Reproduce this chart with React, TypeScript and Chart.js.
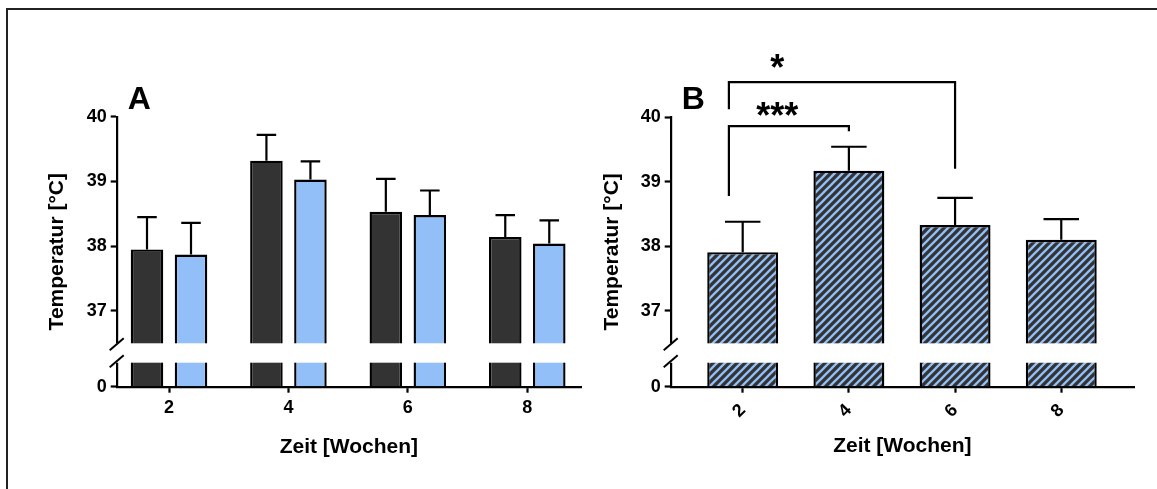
import React, { useEffect, useRef } from 'react';
import { Chart, registerables, LinearScale } from 'chart.js';

Chart.register(...registerables);

// ---------- data ----------
const weeks = [2, 4, 6, 8];
const tempA1 = [37.95, 39.32, 38.53, 38.14];
const sdA1 = [0.5, 0.4, 0.51, 0.34];
const tempA2 = [37.87, 39.03, 38.48, 38.04];
const sdA2 = [0.49, 0.28, 0.38, 0.36];
const tempB = [37.91, 39.17, 38.33, 38.1];
const sdB = [0.47, 0.37, 0.42, 0.32];
const yTicks = [0, 37, 38, 39, 40];

// significance brackets (panel B)
const sigLabels = ['***', '*'];
const sigFrom = [1.74, 1.74];
const sigTo = [4, 6];
const sigBarY = [39.86, 40.54];
const sigLegFromY = [38.78, 40.12];
const sigLegToY = [39.78, 39.2];
const sigLabelX = [2.65, 2.65];
const sigLabelY = [40.13, 40.86];

// axis break
const BREAK_LOW = 1;
const BREAK_HIGH = 36.5;
const LOW_FRAC = 0.0889;
const GAP_FRAC = 0.0719;

const FONT = "'Liberation Sans', Arial, Helvetica, sans-serif";
const DARK = '#333333';
const BLUE = '#92BFF7';

class BrokenLinearScale extends LinearScale {
  static id = 'brokenLinear';
  getPixelForValue(value: any) {
    const s: any = this;
    const h = s.bottom - s.top;
    const lowPx = h * LOW_FRAC;
    const gapPx = h * GAP_FRAC;
    const highBottom = s.bottom - lowPx - gapPx;
    if (value === null || value === undefined || isNaN(value)) return NaN;
    if (value <= BREAK_LOW) return s.bottom - (value / BREAK_LOW) * lowPx;
    if (value < BREAK_HIGH)
      return s.bottom - lowPx - ((value - BREAK_LOW) / (BREAK_HIGH - BREAK_LOW)) * gapPx;
    return highBottom - ((value - BREAK_HIGH) / (s.max - BREAK_HIGH)) * (highBottom - s.top);
  }
  getValueForPixel(pixel: number) {
    const s: any = this;
    const h = s.bottom - s.top;
    const lowPx = h * LOW_FRAC;
    const gapPx = h * GAP_FRAC;
    const highBottom = s.bottom - lowPx - gapPx;
    if (pixel >= s.bottom - lowPx) return ((s.bottom - pixel) / lowPx) * BREAK_LOW;
    if (pixel >= highBottom)
      return BREAK_LOW + ((s.bottom - lowPx - pixel) / gapPx) * (BREAK_HIGH - BREAK_LOW);
    return BREAK_HIGH + ((highBottom - pixel) / (highBottom - s.top)) * (s.max - BREAK_HIGH);
  }
}
Chart.register(BrokenLinearScale as any);

function makeHatch(): any {
  const s = 8;
  const c = document.createElement('canvas');
  c.width = s;
  c.height = s;
  const g = c.getContext('2d')!;
  g.fillStyle = DARK;
  g.fillRect(0, 0, s, s);
  g.strokeStyle = BLUE;
  g.lineWidth = 2.3;
  g.beginPath();
  for (const o of [-s, 0, s]) {
    g.moveTo(o - 1, s + 1);
    g.lineTo(o + s + 1, -1);
  }
  g.stroke();
  return g.createPattern(c, 'repeat');
}

function decorPlugin(letter: string, capFrac: number, withBrackets: boolean) {
  return {
    id: 'decor',
    afterDatasetsDraw(chart: any) {
      const ctx = chart.ctx;
      const y = chart.scales.y;
      ctx.save();
      ctx.strokeStyle = '#000';
      ctx.lineWidth = 2.2;
      chart.data.datasets.forEach((ds: any, di: number) => {
        const meta = chart.getDatasetMeta(di);
        meta.data.forEach((bar: any, i: number) => {
          const v = ds.data[i].y;
          const yTop = y.getPixelForValue(v + ds.errors[i]);
          const half = (bar.width * capFrac) / 2;
          ctx.beginPath();
          ctx.moveTo(bar.x, bar.y);
          ctx.lineTo(bar.x, yTop);
          ctx.moveTo(bar.x - half, yTop);
          ctx.lineTo(bar.x + half, yTop);
          ctx.stroke();
        });
      });
      ctx.restore();
    },
    afterDraw(chart: any) {
      const ctx = chart.ctx;
      const y = chart.scales.y;
      const x = chart.scales.x;
      const area = chart.chartArea;
      const gTop = y.getPixelForValue(BREAK_HIGH);
      const gBot = y.getPixelForValue(BREAK_LOW);
      ctx.save();
      ctx.fillStyle = '#fff';
      ctx.fillRect(area.left - 2, gTop, area.right - area.left + 4, gBot - gTop);
      ctx.strokeStyle = '#000';
      ctx.lineWidth = 2;
      const ax = area.left;
      for (const cy of [gTop + 1, gBot - 1.5]) {
        ctx.beginPath();
        ctx.moveTo(ax - 7, cy + 6);
        ctx.lineTo(ax + 7, cy - 6);
        ctx.stroke();
      }
      // panel letter
      ctx.fillStyle = '#000';
      ctx.font = `bold 32px ${FONT}`;
      ctx.textBaseline = 'alphabetic';
      ctx.textAlign = 'left';
      ctx.fillText(letter, area.left + 11, area.top - 8);

      if (withBrackets) {
        ctx.lineWidth = 2.2;
        sigLabels.forEach((lab, i) => {
          const x1 = x.getPixelForValue(sigFrom[i]);
          const x2 = x.getPixelForValue(sigTo[i]);
          const yb = y.getPixelForValue(sigBarY[i]);
          ctx.beginPath();
          ctx.moveTo(x1, y.getPixelForValue(sigLegFromY[i]));
          ctx.lineTo(x1, yb);
          ctx.lineTo(x2, yb);
          ctx.lineTo(x2, y.getPixelForValue(sigLegToY[i]));
          ctx.stroke();
          ctx.font = `bold 36px ${FONT}`;
          ctx.textAlign = 'center';
          const m = ctx.measureText(lab);
          const cy = y.getPixelForValue(sigLabelY[i]);
          const asc = m.actualBoundingBoxAscent;
          const desc = m.actualBoundingBoxDescent;
          ctx.fillText(lab, x.getPixelForValue(sigLabelX[i]), cy + (asc - desc) / 2);
        });
      }
      ctx.restore();
    },
  };
}

function makeConfig(panel: 'A' | 'B'): any {
  const isA = panel === 'A';
  const datasets = isA
    ? [
        {
          label: 'Gruppe 1',
          data: weeks.map((w, i) => ({ x: w, y: tempA1[i] })),
          errors: sdA1,
          backgroundColor: DARK,
          borderColor: '#000',
          borderWidth: 2.4,
          categoryPercentage: 0.737,
          barPercentage: 0.74,
        },
        {
          label: 'Gruppe 2',
          data: weeks.map((w, i) => ({ x: w, y: tempA2[i] })),
          errors: sdA2,
          backgroundColor: BLUE,
          borderColor: '#000',
          borderWidth: 2.4,
          categoryPercentage: 0.737,
          barPercentage: 0.74,
        },
      ]
    : [
        {
          label: 'Gruppe',
          data: weeks.map((w, i) => ({ x: w, y: tempB[i] })),
          errors: sdB,
          backgroundColor: makeHatch(),
          borderColor: '#000',
          borderWidth: 2.4,
          categoryPercentage: 1,
          barPercentage: 0.668,
        },
      ];

  const gridTicks = {
    display: true,
    drawOnChartArea: false,
    drawTicks: true,
    tickLength: 6,
    tickWidth: 2.2,
    tickColor: '#000',
    offset: false,
  };
  const border = { display: true, color: '#000', width: 2.2 };
  const titleFont = { family: FONT, size: 21, weight: 'bold', lineHeight: 1 };

  return {
    type: 'bar',
    data: { datasets },
    options: {
      responsive: false,
      animation: false,
      events: [],
      layout: {
        padding: isA
          ? { left: 46.5, top: 116.7, right: 19, bottom: 31.5 }
          : { left: 2, top: 117, right: 23, bottom: 32.5 },
      },
      plugins: { legend: { display: false }, tooltip: { enabled: false } },
      scales: {
        x: {
          type: 'linear',
          min: isA ? 1.124 : 0.644,
          max: isA ? 8.9 : 9.37,
          offset: false,
          afterBuildTicks: (s: any) => {
            s.ticks = weeks.map((v) => ({ value: v }));
          },
          afterFit: (s: any) => {
            s.height = isA ? 70.8 : 69.8;
          },
          grid: gridTicks,
          border,
          ticks: {
            font: { family: FONT, size: isA ? 18 : 18, weight: 'bold' },
            color: '#000',
            padding: isA ? 5 : 7,
            autoSkip: false,
            minRotation: isA ? 0 : 45,
            maxRotation: isA ? 0 : 45,
            callback: (v: any) => String(v),
          },
          title: { display: true, text: 'Zeit [Wochen]', font: titleFont, color: '#000', padding: 0 },
        },
        y: {
          type: 'brokenLinear',
          min: 0,
          max: 40,
          afterBuildTicks: (s: any) => {
            s.ticks = yTicks.map((v) => ({ value: v }));
          },
          afterFit: (s: any) => {
            s.width = isA ? 70.2 : 68.7;
          },
          grid: gridTicks,
          border,
          ticks: {
            font: { family: FONT, size: 18, weight: 'bold' },
            color: '#000',
            padding: 4,
            autoSkip: false,
            callback: (v: any) => String(v),
          },
          title: { display: true, text: 'Temperatur [°C]', font: titleFont, color: '#000', padding: 0 },
        },
      },
    },
    plugins: [decorPlugin(panel, isA ? 0.6 : 0.5, !isA)],
  };
}

export default function App() {
  const refA = useRef<HTMLCanvasElement | null>(null);
  const refB = useRef<HTMLCanvasElement | null>(null);

  useEffect(() => {
    const a = new Chart(refA.current!, makeConfig('A'));
    const b = new Chart(refB.current!, makeConfig('B'));
    return () => {
      a.destroy();
      b.destroy();
    };
  }, []);

  return (
    <div
      style={{
        position: 'absolute',
        left: 0,
        top: 0,
        width: 1157,
        height: 489,
        background: '#fff',
        overflow: 'hidden',
      }}
    >
      <div
        style={{
          position: 'absolute',
          left: 6,
          top: 8,
          right: -10,
          bottom: -10,
          borderTop: '2px solid #222',
          borderLeft: '2px solid #222',
        }}
      />
      <canvas
        ref={refA}
        width={600}
        height={489}
        style={{ position: 'absolute', left: 0, top: 0, width: 600, height: 489 }}
      />
      <canvas
        ref={refB}
        width={557}
        height={489}
        style={{ position: 'absolute', left: 600, top: 0, width: 557, height: 489 }}
      />
    </div>
  );
}
